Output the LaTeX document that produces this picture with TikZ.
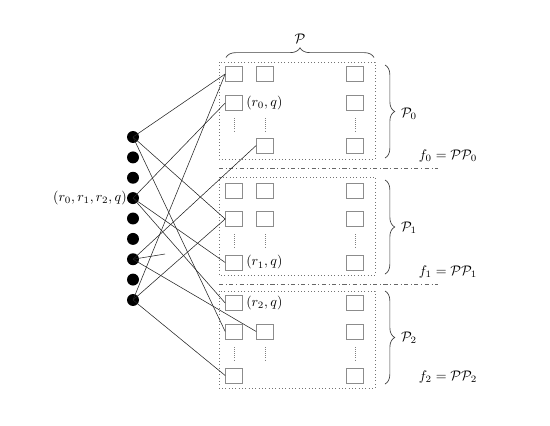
\documentclass[tikz,border=0pt]{standalone}
\usetikzlibrary{decorations.pathreplacing}
\begin{document}
\begin{tikzpicture}[x=0.72pt,y=-0.72pt,
  sq/.style={draw=black!45, line width=0.5pt, minimum width=12.2pt, minimum height=10.8pt, inner sep=0pt},
  bdot/.style={circle, fill=black, minimum size=8.6pt, inner sep=0pt},
  conn/.style={line width=0.4pt, draw=black!85},
  frm/.style={draw=black!55, dotted, line width=0.4pt},
  sepline/.style={draw=black!60, dash dot, line width=0.5pt},
  vdts/.style={draw=black!50, densely dotted, line width=0.5pt},
  brc/.style={draw=black!75, line width=0.5pt, decorate, decoration={brace, amplitude=7pt}},
  lab/.style={inner sep=0pt}]
\useasboundingbox (0,0) rectangle (550,425);

% frames
\draw[frm] (219,62) rectangle (375,159);
\draw[frm] (219,177) rectangle (375,275);
\draw[frm] (219,291) rectangle (375,388);

% separators
\draw[sepline] (219,168) -- (438,168);
\draw[sepline] (219,284) -- (438,284);

% P0 squares
\node[sq] (a11) at (234,74) {};
\node[sq] (a12) at (234,103) {};
\node[sq] (a21) at (265,74) {};
\node[sq] (a23) at (265,145.5) {};
\node[sq] (a31) at (355,74) {};
\node[sq] (a32) at (355,103) {};
\node[sq] (a33) at (355,145.5) {};
\draw[vdts] (234,118) -- (234,132);
\draw[vdts] (265,118) -- (265,132);
\draw[vdts] (355,118) -- (355,132);

% P1 squares
\node[sq] (b11) at (234,190.5) {};
\node[sq] (b12) at (234,219) {};
\node[sq] (b13) at (234,262.5) {};
\node[sq] (b21) at (265,190.5) {};
\node[sq] (b22) at (265,219) {};
\node[sq] (b31) at (355,190.5) {};
\node[sq] (b32) at (355,219) {};
\node[sq] (b33) at (355,262.5) {};
\draw[vdts] (234,234) -- (234,248);
\draw[vdts] (265,234) -- (265,248);
\draw[vdts] (355,234) -- (355,248);

% P2 squares
\node[sq] (c11) at (234,303) {};
\node[sq] (c12) at (234,331.5) {};
\node[sq] (c13) at (234,375.5) {};
\node[sq] (c22) at (265,331.5) {};
\node[sq] (c31) at (355,303) {};
\node[sq] (c32) at (355,331.5) {};
\node[sq] (c33) at (355,375.5) {};
\draw[vdts] (234,347) -- (234,361);
\draw[vdts] (265,347) -- (265,361);
\draw[vdts] (355,347) -- (355,361);

% square labels
\node[lab, anchor=west] (l0) at (246,103) {$(r_0,q)$};
\node[lab, anchor=west] (l1) at (246,262.5) {$(r_1,q)$};
\node[lab, anchor=west] (l2) at (246,303) {$(r_2,q)$};

% braces
\draw[brc] (226,57.5) -- (374,57.5);
\node[lab] (P) at (300,39) {$\mathcal{P}$};
\draw[brc] (385,65) -- (385,158);
\draw[brc] (385,180) -- (385,274);
\draw[brc] (385,291) -- (385,384);
\node[lab] (P0) at (409,114) {$\mathcal{P}_0$};
\node[lab] (P1) at (409,228) {$\mathcal{P}_1$};
\node[lab] (P2) at (409,338) {$\mathcal{P}_2$};
\node[lab] (f0) at (448,156) {$f_0=\mathcal{P}\mathcal{P}_0$};
\node[lab] (f1) at (448,272) {$f_1=\mathcal{P}\mathcal{P}_1$};
\node[lab] (f2) at (448,377) {$f_2=\mathcal{P}\mathcal{P}_2$};

% black dots
\foreach \i/\y in {1/137,2/157.4,3/177.75,4/198.1,5/218.5,6/238.9,7/259.25,8/279.6,9/300}
  \node[bdot] (d\i) at (133,\y) {};
\node[lab, anchor=east] (dl) at (127,198.1) {$(r_0,r_1,r_2,q)$};
\coordinate (stub) at (165,254);

% connectors
\draw[conn] (d1.center) -- (a11.west);
\draw[conn] (d1.center) -- (b12.west);
\draw[conn] (d1.center) -- (c12.west);
\draw[conn] (d4.center) -- (a12.west);
\draw[conn] (d4.center) -- (b13.west);
\draw[conn] (d4.center) -- (c11.west);
\draw[conn] (d7.center) -- (a23.west);
\draw[conn] (d7.center) -- (c22.west);
\draw[conn] (d7.center) -- (stub);
\draw[conn] (d9.center) -- (a11.west);
\draw[conn] (d9.center) -- (b12.west);
\draw[conn] (d9.center) -- (c13.west);
\end{tikzpicture}
\end{document}
